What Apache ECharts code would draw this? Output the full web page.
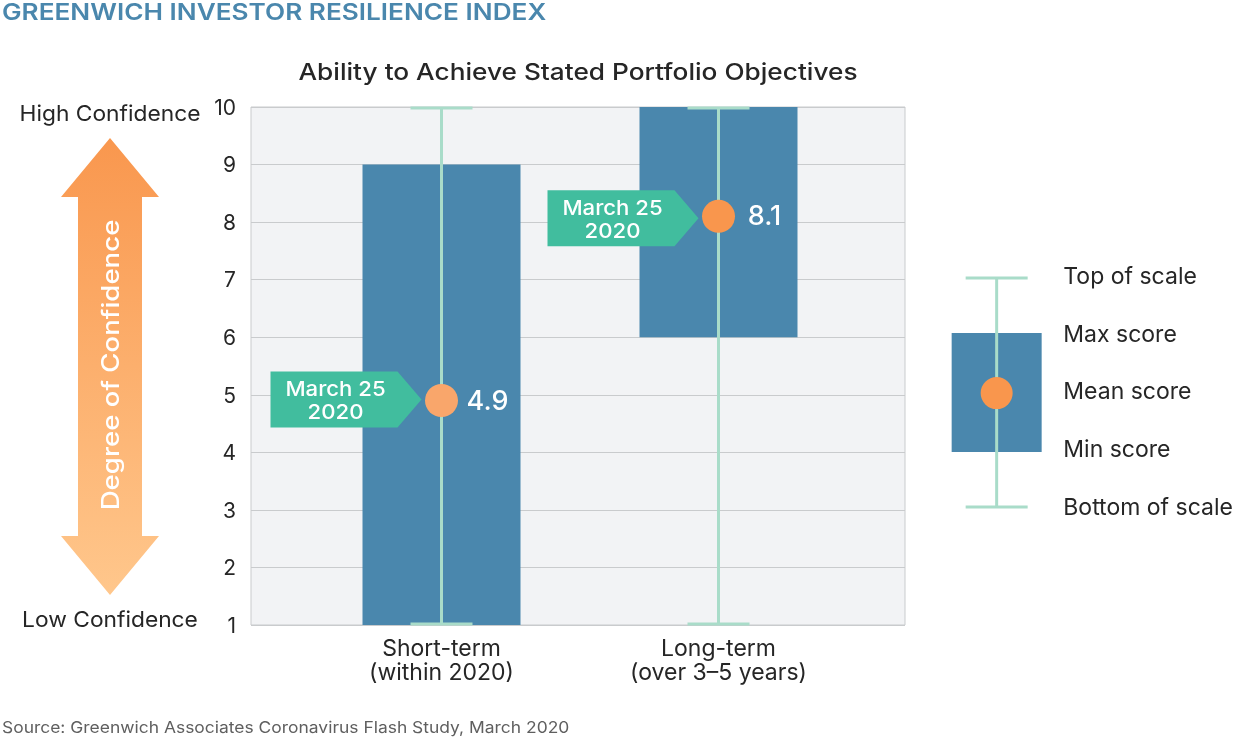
<!DOCTYPE html>
<html><head><meta charset="utf-8">
<style>html,body{margin:0;padding:0;background:#fff}#c{width:1236px;height:737px}</style>
<script src="https://cdn.jsdelivr.net/npm/echarts@6/dist/echarts.min.js"></script>
</head><body><div id="c"></div>
<script>
const categories = ['Short-term\n(within 2020)', 'Long-term\n(over 3–5 years)'];
const topScale = [10, 10];
const bottomScale = [1, 1];
const maxScores = [9, 10];
const minScores = [1, 6];
const meanScores = [4.9, 8.1];
const meanLabels = ['4.9', '8.1'];
const tagLabel = 'March 25\n2020';
const yTicks = [1, 10, 1];
const legendLabels = ['Bottom of scale', 'Min score', 'Mean score', 'Max score', 'Top of scale'];
const legendTop = [4], legendBottom = [0], legendMax = [3.03], legendMin = [0.97], legendMean = [1.99];

const FONT = 'Inter, "Open Sans", sans-serif';
const INK = '#262626', BLUE = '#4a87ad', MINT = '#a9dcc9', TEAL = '#41bd9e';
const DOTS = ['#f9a66b', '#f9964d'];
const TAG_NUDGE = [-1, 2];

function boxRender(barW, capW, r, withTag) {
  return function (params, api) {
    const i = params.dataIndex;
    const x = api.value(0);
    const c = (v) => api.coord([x, v]);
    const cx = c(api.value(1))[0];
    const yT = c(api.value(1))[1], yB = c(api.value(2))[1];
    const yMax = c(api.value(3))[1], yMin = c(api.value(4))[1], yM = c(api.value(5))[1];
    const line = (x1, y1, x2, y2) => ({type: 'line', shape: {x1, y1, x2, y2}, style: {stroke: MINT, lineWidth: 3}});
    const kids = [
      {type: 'rect', shape: {x: cx - barW / 2, y: yMax, width: barW, height: yMin - yMax}, style: {fill: BLUE}},
      line(cx, yT, cx, yB),
      line(cx - capW / 2, yT + 1, cx + capW / 2, yT + 1),
      line(cx - capW / 2, yB - 1, cx + capW / 2, yB - 1)
    ];
    if (withTag) {
      const yg = yM + TAG_NUDGE[i];
      kids.push({type: 'polygon', shape: {points: [[cx - 171, yg - 28], [cx - 44, yg - 28], [cx - 20, yg], [cx - 44, yg + 28], [cx - 171, yg + 28]]}, style: {fill: TEAL}});
      kids.push({type: 'text', x: cx - 106, y: yg + 1.5, scaleX: 1.08, style: {text: tagLabel, fill: '#fff', font: '500 20.5px ' + FONT, lineHeight: 23, align: 'center', verticalAlign: 'middle'}});
      kids.push({type: 'text', x: cx + 46, y: yM + 1, style: {text: meanLabels[i], fill: '#fff', font: '500 27px ' + FONT, align: 'center', verticalAlign: 'middle'}});
    }
    kids.push({type: 'circle', shape: {cx, cy: yM, r}, style: {fill: withTag ? DOTS[i] : DOTS[1]}});
    return {type: 'group', children: kids};
  };
}

const rows = categories.map((_, i) => [i, topScale[i], bottomScale[i], maxScores[i], minScores[i], meanScores[i]]);
const legendRow = [[0, legendTop[0], legendBottom[0], legendMax[0], legendMin[0], legendMean[0]]];

const chart = echarts.init(document.getElementById('c'), null, {renderer: 'canvas'});
chart.setOption({
  animation: false,
  backgroundColor: '#fff',
  textStyle: {fontFamily: FONT},
  grid: [
    {left: 251, top: 107, width: 654, height: 518, show: true, backgroundColor: '#f2f3f5', borderColor: '#c9cbcd', borderWidth: 1},
    {left: 303, top: 107, width: 554, height: 518},
    {left: 952, top: 277, width: 90, height: 231}
  ],
  xAxis: [
    {gridIndex: 0, type: 'value', min: 0, max: 1, show: false},
    {gridIndex: 1, type: 'category', data: categories, axisLine: {show: false}, axisTick: {show: false},
      axisLabel: {interval: 0, margin: 12, color: INK, fontSize: 23, lineHeight: 24, fontFamily: FONT}},
    {gridIndex: 2, type: 'category', data: [''], show: false}
  ],
  yAxis: [
    {gridIndex: 0, type: 'value', min: yTicks[0], max: yTicks[1], interval: yTicks[2], axisLine: {show: false}, axisTick: {show: false},
      splitLine: {lineStyle: {color: '#c9cbcd', width: 1}},
      axisLabel: {margin: 15, color: INK, fontSize: 21, fontFamily: FONT, formatter: '{t|{value}}',
        rich: {t: {color: INK, fontSize: 21, fontFamily: FONT, padding: [3, 0, 0, 0]}}}},
    {gridIndex: 1, type: 'value', min: yTicks[0], max: yTicks[1], interval: yTicks[2], show: false},
    {gridIndex: 2, type: 'value', position: 'right', min: 0, max: 4, interval: 1, axisLine: {show: false}, axisTick: {show: false}, splitLine: {show: false},
      axisLabel: {margin: 22, color: INK, fontSize: 23, fontFamily: FONT, align: 'left', formatter: (v) => legendLabels[v]}}
  ],
  series: [
    {type: 'custom', name: 'Scores', xAxisIndex: 1, yAxisIndex: 1, clip: false, data: rows, renderItem: boxRender(158, 62, 16.5, true)},
    {type: 'custom', name: 'Key', xAxisIndex: 2, yAxisIndex: 2, clip: false, data: legendRow, renderItem: boxRender(90, 62, 16, false)}
  ],
  graphic: [
    {type: 'text', z: 2, x: 2, y: 13.5, scaleX: 1.138, style: {text: 'GREENWICH INVESTOR RESILIENCE INDEX', fill: BLUE, font: '600 23px ' + FONT, align: 'left', verticalAlign: 'middle'}},
    {type: 'text', z: 2, x: 578, y: 73, scaleX: 1.14, style: {text: 'Ability to Achieve Stated Portfolio Objectives', fill: INK, font: '500 23px ' + FONT, align: 'center', verticalAlign: 'middle'}},
    {type: 'text', z: 2, x: 2, y: 728, scaleX: 1.09, style: {text: 'Source: Greenwich Associates Coronavirus Flash Study, March 2020', fill: '#5f5f5f', font: '400 16px ' + FONT, align: 'left', verticalAlign: 'middle'}},
    {type: 'polygon', z: 1, shape: {points: [[110, 138], [159, 197], [142, 197], [142, 536], [159, 536], [110, 595], [61, 536], [78, 536], [78, 197], [61, 197]]},
      style: {fill: new echarts.graphic.LinearGradient(0, 0, 0, 1, [{offset: 0, color: '#f9974e'}, {offset: 1, color: '#ffc78c'}])}},
    {type: 'text', z: 2, x: 112, y: 365, rotation: Math.PI / 2, scaleX: 1.15, style: {text: 'Degree of Confidence', fill: '#fff', font: '500 24px ' + FONT, align: 'center', verticalAlign: 'middle'}},
    {type: 'text', z: 2, x: 110, y: 114, scaleX: 1.035, style: {text: 'High Confidence', fill: INK, font: '400 22px ' + FONT, align: 'center', verticalAlign: 'middle'}},
    {type: 'text', z: 2, x: 110, y: 620, scaleX: 1.035, style: {text: 'Low Confidence', fill: INK, font: '400 22px ' + FONT, align: 'center', verticalAlign: 'middle'}}
  ]
});
</script></body></html>
